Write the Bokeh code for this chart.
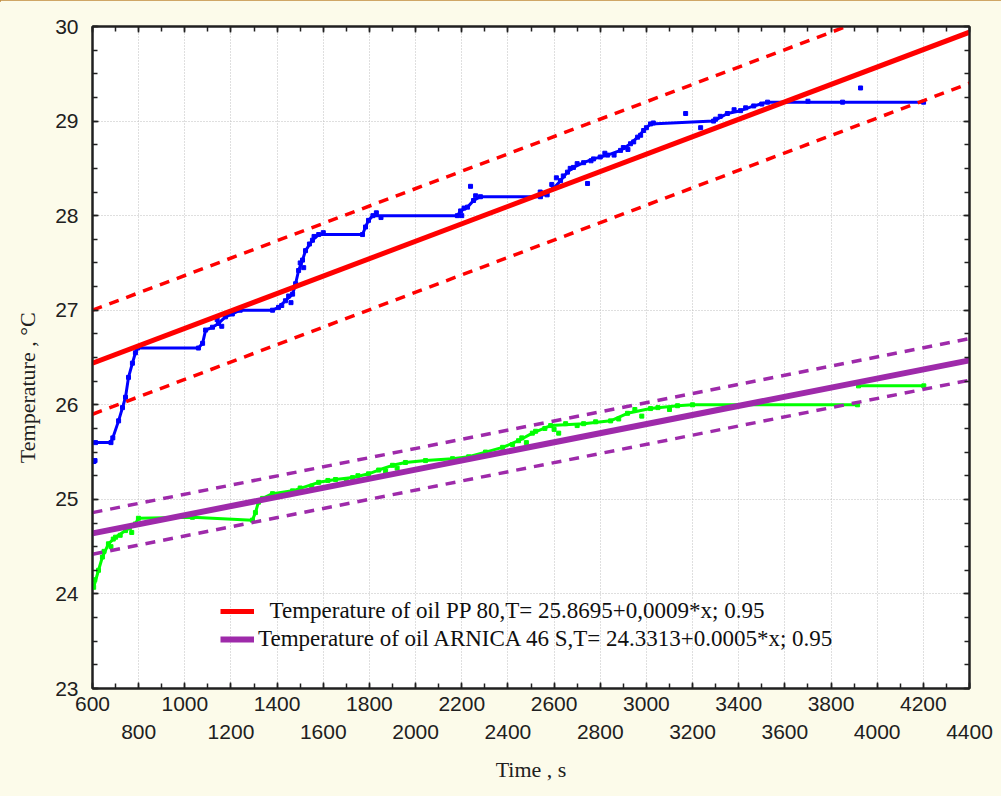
import math
from bokeh.plotting import figure
from bokeh.models import (LinearAxis, FixedTicker, Range1d, Legend, LegendItem,
                          CustomJSTickFormatter)
from bokeh.embed import file_html
from bokeh.resources import INLINE

# ---------------- data ----------------
x_ticks_row1 = [600, 1000, 1400, 1800, 2200, 2600, 3000, 3400, 3800, 4200]
x_ticks_row2 = [800, 1200, 1600, 2000, 2400, 2800, 3200, 3600, 4000, 4400]
x_minor = list(range(600, 4401, 100))
y_ticks = [23, 24, 25, 26, 27, 28, 29, 30]
y_minor = [23 + 0.25 * i for i in range(29)]

# Temperature of oil PP 80 (blue points)
pp80_x = [613, 680, 688, 713, 730, 743, 756, 773, 786, 795, 1059, 1077, 1090, 1120,
          1146, 1176, 1206, 1240, 1380, 1406, 1436, 1467, 1480, 1493, 1510, 1523,
          1553, 1580, 1770, 1783, 1796, 1815, 2181, 2195, 2225, 2251, 2281, 2541,
          2554, 2598, 2628, 2658, 2684, 2728, 2771, 2832, 2888, 2931, 2962, 2988,
          3018, 3291, 3351, 3408, 3465, 3525, 4201]
pp80_t = [25.60, 25.60, 25.65, 25.83, 25.97, 26.08, 26.29, 26.44, 26.55, 26.60, 26.60,
          26.65, 26.79, 26.82, 26.86, 26.93, 26.96, 27.00, 27.00, 27.03, 27.10, 27.17,
          27.28, 27.42, 27.53, 27.63, 27.74, 27.80, 27.80, 27.88, 27.95, 28.00, 28.00,
          28.05, 28.09, 28.16, 28.20, 28.20, 28.23, 28.29, 28.37, 28.46, 28.51, 28.56,
          28.60, 28.64, 28.69, 28.76, 28.83, 28.90, 28.97, 29.00, 29.08, 29.11, 29.16,
          29.20, 29.20]
pp80_extra_x = [600, 606, 611, 1140, 1160, 1190, 1420, 1450, 1460, 1500, 1515, 1540,
                1560, 1600, 1830, 1850, 2200, 2210, 2238, 2260, 2540, 2570, 2590, 2610,
                2640, 2670, 2700, 2745, 2760, 2800, 2820, 2860, 2900, 2920, 2945, 2975,
                3000, 3030, 3170, 3235, 3300, 3320, 3380, 3430, 3500, 3700, 3850, 3928]
pp80_extra_t = [25.40, 25.40, 25.41, 26.90, 26.83, 26.97, 27.05, 27.15, 27.08, 27.50,
                27.45, 27.70, 27.78, 27.82, 28.03, 27.98, 28.00, 28.08, 28.31, 28.21,
                28.25, 28.22, 28.33, 28.40, 28.42, 28.50, 28.55, 28.34, 28.58, 28.62,
                28.66, 28.64, 28.72, 28.70, 28.78, 28.85, 28.93, 28.98, 29.08, 28.93,
                29.02, 29.05, 29.12, 29.14, 29.18, 29.21, 29.20, 29.35]

# Temperature of oil ARNICA 46 S (green points)
arn_x = [605, 626, 643, 669, 700, 743, 786, 799, 1033, 1293, 1306, 1319, 1337, 1380,
         1467, 1580, 1653, 1727, 1796, 1840, 1900, 1956, 2043, 2160, 2230, 2303, 2377,
         2446, 2506, 2585, 2728, 2845, 2918, 3018, 3135, 3200, 3915, float("nan"),
         3919, 4202]
arn_t = [24.07, 24.25, 24.39, 24.53, 24.60, 24.67, 24.74, 24.80, 24.81, 24.78, 24.86,
         24.97, 25.01, 25.06, 25.09, 25.18, 25.21, 25.23, 25.27, 25.31, 25.36, 25.39,
         25.41, 25.43, 25.45, 25.50, 25.55, 25.62, 25.70, 25.78, 25.80, 25.83, 25.91,
         25.96, 25.99, 26.00, 26.00, float("nan"), 26.20, 26.20]
arn_extra_x = [610, 650, 680, 690, 720, 760, 770, 1450, 1500, 1550, 1620, 1700, 1750,
               1870, 1920, 2380, 2420, 2460, 2480, 2520, 2560, 2600, 2620, 2650, 2700,
               2780, 2880, 2950, 2980, 3050, 3100]
arn_extra_t = [24.15, 24.45, 24.50, 24.58, 24.62, 24.70, 24.65, 25.05, 25.12, 25.14,
               25.20, 25.19, 25.25, 25.30, 25.33, 25.50, 25.58, 25.65, 25.60, 25.72,
               25.75, 25.74, 25.70, 25.80, 25.78, 25.82, 25.85, 25.95, 25.88, 25.97,
               25.95]

# regression lines and 0.95 bands (values at x = 600 and x = 4400)
fit_x = [600, 4400]
pp80_fit = [26.44, 29.94]
pp80_upper = [27.00, 30.49]
pp80_lower = [25.90, 29.40]
arn_fit = [24.64, 26.47]
arn_upper = [24.86, 26.70]
arn_lower = [24.42, 26.26]

label_pp80 = "\u00a0\u00a0Temperature of oil PP 80,T= 25.8695+0,0009*x; 0.95"
label_arn = "Temperature of oil ARNICA 46 S,T= 24.3313+0.0005*x; 0.95"

# ---------------- styling ----------------
BG = "#FCFBEA"
RED = "#FF0000"
PURPLE = "#9E2AAA"
BLUE = "#0000FF"
GREEN = "#00FF00"
TICK_FONT = "Liberation Sans"
SERIF = "Liberation Serif"

p = figure(width=1001, height=796, x_range=Range1d(600, 4400), y_range=Range1d(23, 30),
           output_backend="svg", toolbar_location=None,
           min_border_left=92, min_border_right=32, min_border_top=26,
           min_border_bottom=108, background_fill_color="white",
           border_fill_color=BG, outline_line_color="#202020", outline_line_width=2)

# bottom axis (row 1 labels, all ticks)
xa = p.xaxis[0]
xa.ticker = FixedTicker(ticks=list(range(600, 4401, 200)), minor_ticks=x_minor)
xa.major_label_overrides = {t: "" for t in x_ticks_row2}
for t in x_ticks_row1:
    xa.major_label_overrides[t] = str(t)

def style_axis(ax):
    ax.axis_line_color = "#202020"
    ax.axis_line_width = 2
    ax.major_tick_in = 6
    ax.major_tick_out = 0
    ax.minor_tick_in = 5
    ax.minor_tick_out = 0
    ax.major_tick_line_color = "#202020"
    ax.minor_tick_line_color = "#202020"
    ax.major_tick_line_width = 1.5
    ax.minor_tick_line_width = 1.5
    ax.major_label_text_font = TICK_FONT
    ax.major_label_text_font_size = "21px"
    ax.major_label_text_color = "#202020"
    ax.axis_label_text_font = SERIF
    ax.axis_label_text_font_style = "normal"
    ax.axis_label_text_font_size = "22px"
    ax.axis_label_text_color = "#202020"

style_axis(xa)
xa.major_label_standoff = 8

# second row of x labels
xa2 = LinearAxis(ticker=FixedTicker(ticks=x_ticks_row2, minor_ticks=[]))
style_axis(xa2)
xa2.axis_line_color = None
xa2.major_tick_line_color = None
xa2.minor_tick_line_color = None
xa2.major_label_standoff = 11
xa2.axis_label = "Time , s"
xa2.axis_label_standoff = 15
p.add_layout(xa2, "below")

ya = p.yaxis[0]
ya.ticker = FixedTicker(ticks=y_ticks, minor_ticks=y_minor)
style_axis(ya)
ya.major_label_standoff = 14
ya.axis_label = "Temperature , \u00b0C" + "\u00a0" * 11
ya.axis_label_standoff = 12

blank = CustomJSTickFormatter(code="return ''")
ra = LinearAxis(ticker=FixedTicker(ticks=y_ticks, minor_ticks=y_minor), formatter=blank)
style_axis(ra)
ra.major_label_text_font_size = "1px"
ra.major_label_standoff = 0
p.add_layout(ra, "right")

ta = LinearAxis(ticker=FixedTicker(ticks=list(range(600, 4401, 200)), minor_ticks=x_minor),
                formatter=blank)
style_axis(ta)
ta.major_label_text_font_size = "1px"
ta.major_label_standoff = 0
p.add_layout(ta, "above")

for g in (p.xgrid[0], p.ygrid[0]):
    g.grid_line_color = "#BEBEBE"
    g.grid_line_dash = "1 2"
    g.grid_line_width = 1

# ---------------- data marks ----------------
p.line(pp80_x, pp80_t, color=BLUE, line_width=3)
p.scatter(pp80_x, pp80_t, marker="square", size=4, color=BLUE)
p.scatter(pp80_extra_x, pp80_extra_t, marker="square", size=4, color=BLUE)

p.line(arn_x, arn_t, color=GREEN, line_width=3)
p.scatter([v for v in arn_x if not math.isnan(v)],
          [v for v in arn_t if not math.isnan(v)], marker="square", size=4, color=GREEN)
p.scatter(arn_extra_x, arn_extra_t, marker="square", size=4, color=GREEN)

p.line(fit_x, pp80_upper, color=RED, line_width=3.5, line_dash="10 8")
p.line(fit_x, pp80_lower, color=RED, line_width=3.5, line_dash="10 8")
r_red = p.line(fit_x, pp80_fit, color=RED, line_width=5)

p.line(fit_x, arn_upper, color=PURPLE, line_width=3.5, line_dash="10 8")
p.line(fit_x, arn_lower, color=PURPLE, line_width=3.5, line_dash="10 8")
r_pur = p.line(fit_x, arn_fit, color=PURPLE, line_width=6)

legend = Legend(items=[LegendItem(label=label_pp80, renderers=[r_red]),
                       LegendItem(label=label_arn, renderers=[r_pur])],
                location=(128, 36), background_fill_alpha=0, border_line_color=None,
                label_text_font=SERIF, label_text_font_size="23px",
                label_text_color="#101010", glyph_width=34, glyph_height=24,
                label_height=24, spacing=2, padding=2, margin=0, label_standoff=4)
p.add_layout(legend, "center")

html = file_html(p, INLINE)
html = html.replace("<head>", "<head><style>html{background:linear-gradient(#C08A3A 0 2px, "
                    + BG + " 2px)}body{background:transparent}</style>", 1)
open("out.html", "w").write(html)
